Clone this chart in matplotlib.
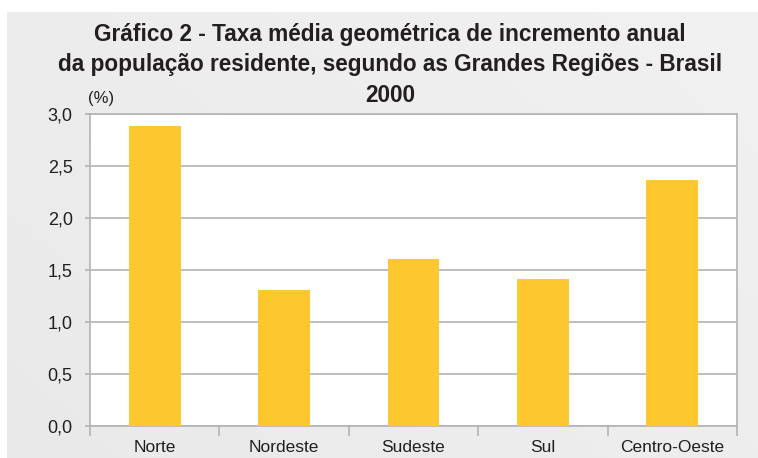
import numpy as np
import matplotlib
matplotlib.use("Agg")
import matplotlib.pyplot as plt
from matplotlib.ticker import FixedLocator

categories = ["Norte", "Nordeste", "Sudeste", "Sul", "Centro-Oeste"]
values = [2.88, 1.31, 1.61, 1.41, 2.37]
yticks = [0.0, 0.5, 1.0, 1.5, 2.0, 2.5, 3.0]
ytick_labels = ["0,0", "0,5", "1,0", "1,5", "2,0", "2,5", "3,0"]
title_lines = ["Gráfico 2 - Taxa média geométrica de incremento anual",
               "da população residente, segundo as Grandes Regiões - Brasil",
               "2000"]

plt.rcParams['font.family'] = ['Liberation Sans', 'DejaVu Sans']

W, H = 758, 458
fig = plt.figure(figsize=(W / 100, H / 100), dpi=100)
fig.patch.set_facecolor("white")

# background panel with gentle gradient
bg = fig.add_axes([7 / W, 0, 1 - 7 / W, (H - 12) / H])
bg.set_axis_off()
gx = np.linspace(0, 1, 200)
gy = np.linspace(0, 1, 100)
GX, GY = np.meshgrid(gx, gy)
shade = 0.915 + 0.03 * (0.6 * GX + 0.4 * (1 - GY))
shade = np.clip(shade, 0, 1)
bg.imshow(np.dstack([shade, shade, shade + 0.004]).clip(0, 1), aspect="auto",
          extent=[0, 1, 0, 1], origin="upper")
bg.set_xlim(0, 1)
bg.set_ylim(0, 1)

left, right, top, bottom = 90, 737, 114, 426
ax = fig.add_axes([left / W, (H - bottom) / H, (right - left) / W, (bottom - top) / H])
ax.set_facecolor("white")

x = np.arange(len(categories))
ax.bar(x, values, width=0.40, color="#fdc82f", zorder=3)

ax.set_xlim(-0.5, len(categories) - 0.5)
ax.set_ylim(0, 3.0)
ax.set_yticks(yticks)
ax.set_yticklabels(ytick_labels, fontsize=13, color="#231f20")
ax.yaxis.grid(True, color="#b3b3b3", linewidth=1.2, zorder=1)
ax.tick_params(axis="y", length=3.5, width=1.2, color="#b3b3b3", pad=9)

ax.set_xticks(x)
ax.set_xticklabels(categories, fontsize=12.5, color="#231f20")
ax.tick_params(axis="x", which="major", length=0, pad=10)
ax.xaxis.set_minor_locator(FixedLocator(np.arange(-0.5, len(categories), 1.0)))
ax.tick_params(axis="x", which="minor", length=7, width=1.2, color="#b3b3b3")

for s in ax.spines.values():
    s.set_color("#b3b3b3")
    s.set_linewidth(1.2)

ax.text(101 / W, (H - 99) / H, "(%)", transform=fig.transFigure, fontsize=12,
        ha="center", va="center", color="#231f20")

for i, (line, yc) in enumerate(zip(title_lines, [35, 65, 95])):
    fig.text(390 / W, (H - yc) / H, line, fontsize=16.3, fontweight="bold",
             ha="center", va="center", color="#231f20")

fig.savefig("out.png", dpi=100, facecolor=fig.get_facecolor())
